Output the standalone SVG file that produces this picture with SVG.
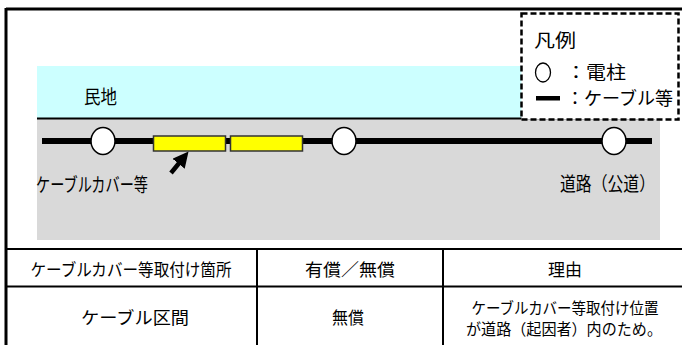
<svg xmlns="http://www.w3.org/2000/svg" width="682" height="345" viewBox="0 0 682 345">
<defs>
<style>
text{font-family:"Noto Sans CJK JP","Noto Sans CJK SC",sans-serif;fill:#000;}
.t16{font-size:17.5px;}
.t15{font-size:15.5px;}
.t17{font-size:19px;}
.leg{font-size:18px;}
.pole{fill:#fff;stroke:#000;stroke-width:1.5;}
.cover{fill:#FFFF00;stroke:#333;stroke-width:1.5;}
.rule{stroke:#000;stroke-width:2;fill:none;}
</style>
<marker id="ah" markerWidth="3.5" markerHeight="3.5" refX="1.2" refY="1.75" orient="auto" markerUnits="strokeWidth">
<path d="M0,0 L3.5,1.75 L0,3.5 z" fill="#000"/>
</marker>
</defs>
<rect width="682" height="345" fill="#fff"/>
<g id="frame">
<line x1="6" y1="9" x2="682" y2="9" stroke="#000" stroke-width="3"/>
<line x1="6" y1="8" x2="6" y2="345" stroke="#000" stroke-width="3"/>
</g>
<g id="private-land">
<rect x="37" y="66" width="618" height="52" fill="#CCFFFF"/>
<text class="t17" x="84" y="104" textLength="33" lengthAdjust="spacingAndGlyphs">民地</text>
</g>
<g id="road">
<rect x="37" y="118" width="623" height="122" fill="#D9D9D9"/>
<line x1="37" y1="118.5" x2="655" y2="118.5" stroke="#000" stroke-width="2"/>
<text class="t17" x="560" y="191" textLength="95" lengthAdjust="spacingAndGlyphs">道路（公道）</text>
</g>
<g id="cable">
<line x1="42" y1="141" x2="652" y2="141" stroke="#000" stroke-width="6"/>
</g>
<g id="cover-1"><rect class="cover" x="153.5" y="136" width="72" height="15"/></g>
<g id="cover-2"><rect class="cover" x="230.5" y="136" width="72" height="15"/></g>
<g id="pole-1"><ellipse class="pole" cx="103" cy="141" rx="12" ry="13.5"/></g>
<g id="pole-2"><ellipse class="pole" cx="344" cy="141" rx="12" ry="13.5"/></g>
<g id="pole-3"><ellipse class="pole" cx="614" cy="141" rx="12" ry="13.5"/></g>
<g id="cover-label">
<text class="t17" x="36" y="192" textLength="112" lengthAdjust="spacingAndGlyphs">ケーブルカバー等</text>
</g>
<g id="connectors">
<line x1="171" y1="173" x2="182" y2="159.5" stroke="#000" stroke-width="4.5" marker-end="url(#ah)"/>
</g>
<g id="legend">
<rect x="521.5" y="13.5" width="157" height="106" fill="#fff" stroke="#000" stroke-width="2.5" stroke-dasharray="6,3"/>
<text class="leg" x="534" y="47" textLength="42" lengthAdjust="spacingAndGlyphs">凡例</text>
<ellipse cx="543" cy="72.5" rx="7.5" ry="9.5" fill="#fff" stroke="#000" stroke-width="1.3"/>
<text class="leg" x="566" y="79" textLength="60" lengthAdjust="spacingAndGlyphs">：電柱</text>
<rect x="536" y="96" width="24" height="4.5" fill="#000"/>
<text class="leg" x="566" y="105" textLength="107" lengthAdjust="spacingAndGlyphs">：ケーブル等</text>
</g>
<g id="table">
<line class="rule" x1="6" y1="249" x2="682" y2="249"/>
<line class="rule" x1="6" y1="286.5" x2="682" y2="286.5"/>
<line class="rule" x1="257" y1="249" x2="257" y2="345"/>
<line class="rule" x1="443" y1="249" x2="443" y2="345"/>
<text class="t16" x="131" y="275.5" text-anchor="middle" textLength="201" lengthAdjust="spacingAndGlyphs">ケーブルカバー等取付け箇所</text>
<text class="t16" x="350" y="275.5" text-anchor="middle" textLength="90" lengthAdjust="spacingAndGlyphs">有償／無償</text>
<text class="t16" x="565" y="275.5" text-anchor="middle" textLength="34" lengthAdjust="spacingAndGlyphs">理由</text>
<text class="t16" x="135" y="323.5" text-anchor="middle" textLength="108" lengthAdjust="spacingAndGlyphs">ケーブル区間</text>
<text class="t16" x="348" y="323.5" text-anchor="middle" textLength="32" lengthAdjust="spacingAndGlyphs">無償</text>
<text class="t15" x="565" y="314" text-anchor="middle" textLength="187" lengthAdjust="spacingAndGlyphs">ケーブルカバー等取付け位置</text>
<text class="t15" x="564" y="335" text-anchor="middle" textLength="196" lengthAdjust="spacingAndGlyphs">が道路（起因者）内のため。</text>
</g>
</svg>
